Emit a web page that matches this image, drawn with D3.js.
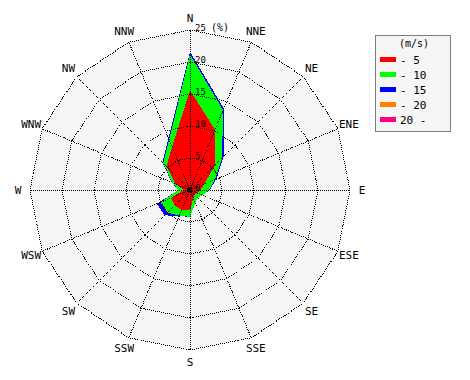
<!DOCTYPE html>
<html>
<head>
<meta charset="utf-8">
<script src="https://cdn.jsdelivr.net/npm/d3@7"></script>
<style>
    body { margin: 0; background: #fff; }
    svg text { font-family: "DejaVu Sans Mono", monospace; fill: #000; }
</style>
</head>
<body>
<div class="rose"></div>
<script>
var directions = ['N', 'NNE', 'NE', 'ENE', 'E', 'ESE', 'SE', 'SSE', 'S', 'SSW', 'SW', 'WSW', 'W', 'WNW', 'NW', 'NNW'];

// frequency (%) per speed class, per direction
var speedUpTo5 = [15.6, 10.2, 5.6, 2.4, 1.6, 1.2, 1.0, 1.4, 3.1, 3.4, 3.4, 3.2, 1.0, 2.4, 5.2, 7.3];
var speedUpTo10 = [5.6, 3.3, 1.5, 1.8, 1.4, 0.9, 0.7, 0.8, 1.1, 0.9, 1.6, 1.8, 0.8, 0.6, 0.7, 1.2];
var speedUpTo15 = [0.4, 0.3, 0.4, 0.2, 0.1, 0.0, 0.0, 0.0, 0.0, 0.1, 0.6, 0.6, 0.0, 0.1, 0.2, 0.3];
var speedUpTo20 = [0, 0, 0, 0, 0, 0, 0, 0, 0, 0, 0, 0, 0, 0, 0, 0];
var speedOver20 = [0, 0, 0, 0, 0, 0, 0, 0, 0, 0, 0, 0, 0, 0, 0, 0];

var speedLabels = ['- 5', '- 10', '- 15', '- 20', '20 -'];
var speedColors = ['#ff0000', '#00ff00', '#0000ff', '#ff8000', '#ff0080'];
var rings = [5, 10, 15, 20, 25];
var ringLabels = [0, 5, 10, 15, 20, 25];

var width = 470, height = 380;
var cx = 190, cy = 190;

var svg = d3.select('.rose').append('svg')
    .attr('width', width)
    .attr('height', height);

var r = d3.scaleLinear().domain([0, 25]).range([0, 160]);
var angle = d3.scalePoint().domain(directions).range([0, 2 * Math.PI * 15 / 16]);

var g = svg.append('g').attr('transform', 'translate(' + cx + ',' + cy + ')');

function ringPath(value) {
    return d3.lineRadial()
        .angle(function (d) { return angle(d); })
        .radius(r(value))
        .curve(d3.curveLinearClosed)(directions);
}

/* background of the rose */
g.append('path')
    .attr('d', ringPath(25))
    .attr('fill', '#f5f5f5');

/* stacked speed classes, outermost first */
var series = [speedUpTo5, speedUpTo10, speedUpTo15, speedUpTo20, speedOver20];
var cumulative = [];
var running = directions.map(function () { return 0; });
series.forEach(function (s) {
    running = running.map(function (v, i) { return v + s[i]; });
    cumulative.push(running.slice());
});

var rose = d3.lineRadial()
    .angle(function (d, i) { return angle(directions[i]); })
    .radius(function (d) { return r(d); })
    .curve(d3.curveLinearClosed);

for (var k = cumulative.length - 1; k >= 0; k--) {
    g.append('path')
        .attr('d', rose(cumulative[k]))
        .attr('fill', speedColors[k])
        .attr('shape-rendering', 'crispEdges');
}

/* dotted grid */
rings.forEach(function (v) {
    g.append('path')
        .attr('d', ringPath(v))
        .attr('fill', 'none')
        .attr('stroke', '#000')
        .attr('stroke-dasharray', '1,1')
        .attr('shape-rendering', 'crispEdges');
});

directions.forEach(function (d) {
    var a = angle(d);
    g.append('line')
        .attr('x1', 0).attr('y1', 0)
        .attr('x2', r(25) * Math.sin(a))
        .attr('y2', -r(25) * Math.cos(a))
        .attr('stroke', '#000')
        .attr('stroke-dasharray', '1,1')
        .attr('shape-rendering', 'crispEdges');
});

g.append('circle').attr('r', 2).attr('fill', '#000');

/* direction labels */
directions.forEach(function (d) {
    var a = angle(d);
    g.append('text')
        .attr('x', 172 * Math.sin(a))
        .attr('y', -172 * Math.cos(a))
        .attr('text-anchor', 'middle')
        .attr('dominant-baseline', 'central')
        .style('font-size', '11px')
        .text(d);
});

/* scale labels along north axis */
ringLabels.forEach(function (v) {
    g.append('text')
        .attr('x', 5)
        .attr('y', -r(v) + 1)
        .style('font-size', '9px')
        .text(v);
});
g.append('text')
    .attr('x', 21)
    .attr('y', -r(25) + 1)
    .style('font-size', '10px')
    .text('(%)');

/* legend */
var legend = svg.append('g').attr('transform', 'translate(375,35)');
legend.append('rect')
    .attr('x', 0.5).attr('y', 0.5)
    .attr('width', 75).attr('height', 96)
    .attr('fill', '#f5f5f5')
    .attr('stroke', '#000')
    .attr('stroke-dasharray', '1,1');
legend.append('text')
    .attr('x', 39).attr('y', 12)
    .attr('text-anchor', 'middle')
    .style('font-size', '10px')
    .text('(m/s)');

speedLabels.forEach(function (label, i) {
    var y = 25 + i * 15;
    legend.append('rect')
        .attr('x', 5).attr('y', y - 3)
        .attr('width', 16).attr('height', 5)
        .attr('fill', speedColors[i]);
    legend.append('text')
        .attr('x', 25).attr('y', y + 4)
        .style('font-size', '11px')
        .text(label);
});
</script>
</body>
</html>
